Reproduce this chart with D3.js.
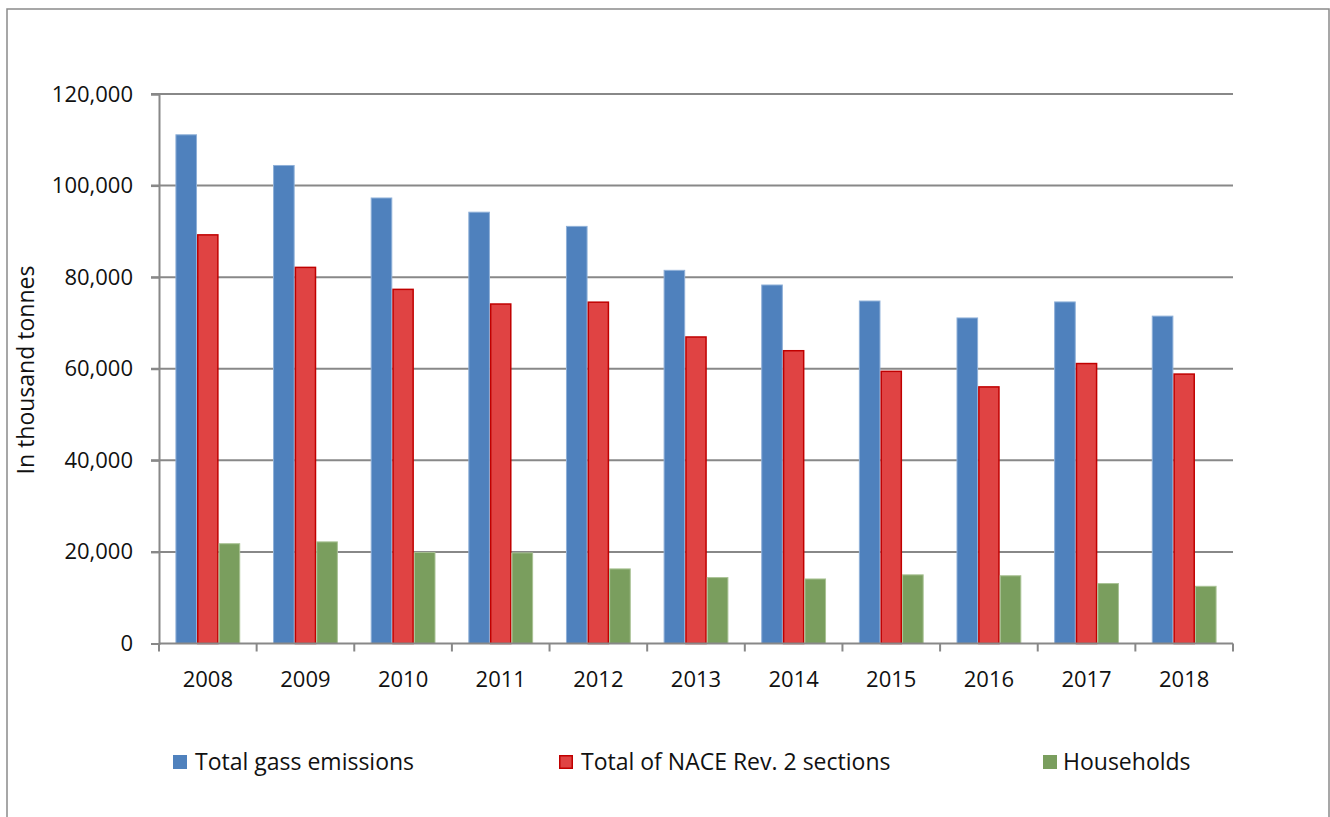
<!DOCTYPE html>
<html>
<head>
<meta charset="utf-8">
<script src="https://cdn.jsdelivr.net/npm/d3@7"></script>
<style>
  body { margin: 0; background: #fff; }
  text { font-family: "Open Sans", "Noto Sans", sans-serif; fill: #111; }
</style>
</head>
<body>
<svg id="chart"></svg>
<script>
const svgWidth = 1330;
const svgHeight = 817;

const years = ["2008", "2009", "2010", "2011", "2012", "2013", "2014", "2015", "2016", "2017", "2018"];
const seriesNames = ["Total gass emissions", "Total of NACE Rev. 2 sections", "Households"];
const totalGas = [111200, 104500, 97400, 94300, 91200, 81600, 78400, 74900, 71200, 74700, 71600];
const naceTotal = [89400, 82300, 77500, 74300, 74700, 67100, 64100, 59600, 56200, 61300, 59000];
const households = [21900, 22300, 20000, 19900, 16400, 14500, 14200, 15100, 14900, 13200, 12600];
const yTicks = [0, 20000, 40000, 60000, 80000, 100000, 120000];

const fills = ["#4f81bd", "#e04343", "#7a9e5e"];
const strokes = ["#8fb0d8", "#c00000", "#a9c294"];

const margin = { top: 94, left: 159, right: 97, bottom: 174 };
const width = svgWidth - margin.left - margin.right;
const height = 643.5 - margin.top;

const svg = d3.select("#chart")
    .attr("width", svgWidth)
    .attr("height", svgHeight);

// outer chart frame (bottom edge falls outside the picture)
svg.append("rect")
    .attr("x", 7).attr("y", 9)
    .attr("width", 1322).attr("height", 830)
    .attr("fill", "none")
    .attr("stroke", "#8a8a8a")
    .attr("stroke-width", 1.5);

const chart = svg.append("g")
    .attr("transform", `translate(${margin.left},${margin.top})`);

const x0 = d3.scaleBand().domain(years).range([0, width]).padding(0);
const x1 = d3.scaleBand().domain(d3.range(3)).range([0, x0.bandwidth()])
    .paddingInner(0).paddingOuter(0.76);
const y = d3.scaleLinear().domain([0, 120000]).range([height, 0]);

// gridlines
chart.append("g")
    .selectAll("line")
    .data(yTicks.filter(d => d > 0))
    .enter()
    .append("line")
    .attr("x1", -8).attr("x2", width)
    .attr("y1", d => y(d)).attr("y2", d => y(d))
    .attr("stroke", "#888")
    .attr("stroke-width", 2);

const rows = years.map((yr, i) => ({ year: yr, values: [totalGas[i], naceTotal[i], households[i]] }));

const groups = chart.selectAll(".year")
    .data(rows)
    .enter()
    .append("g")
    .attr("class", "year")
    .attr("transform", d => `translate(${x0(d.year)},0)`);

groups.selectAll("rect")
    .data(d => d.values.map((v, k) => ({ k, v })))
    .enter()
    .append("rect")
    .attr("x", d => x1(d.k) + (d.k === 1 ? 0.75 : 0.5))
    .attr("y", d => y(d.v) + (d.k === 1 ? 0.75 : 0.5))
    .attr("width", d => x1.bandwidth() - (d.k === 1 ? 1.5 : 1))
    .attr("height", d => height - y(d.v) - (d.k === 1 ? 0.75 : 0.5))
    .attr("fill", d => fills[d.k])
    .attr("stroke", d => strokes[d.k])
    .attr("stroke-width", d => d.k === 1 ? 1.5 : 1);

// y axis
const yAxis = d3.axisLeft(y)
    .tickValues(yTicks)
    .tickSize(8)
    .tickPadding(18)
    .tickFormat(d3.format(","));

const yg = chart.append("g").call(yAxis);
yg.select(".domain").attr("stroke", "#888").attr("stroke-width", 2);
yg.selectAll(".tick line").attr("stroke", "#888").attr("stroke-width", 2);
yg.selectAll(".tick text").style("font-size", "22px").attr("fill", "#111");

// x axis with ticks at category boundaries
chart.append("line")
    .attr("x1", 0).attr("x2", width)
    .attr("y1", height).attr("y2", height)
    .attr("stroke", "#888").attr("stroke-width", 2);

chart.append("g")
    .selectAll("line")
    .data(years.concat(["end"]))
    .enter()
    .append("line")
    .attr("x1", (d, i) => i * x0.step()).attr("x2", (d, i) => i * x0.step())
    .attr("y1", height).attr("y2", height + 8)
    .attr("stroke", "#888").attr("stroke-width", 2);

chart.append("g")
    .selectAll("text")
    .data(years)
    .enter()
    .append("text")
    .attr("x", d => x0(d) + x0.bandwidth() / 2)
    .attr("y", height + 43)
    .attr("text-anchor", "middle")
    .style("font-size", "22px")
    .text(d => d);

// y axis label
svg.append("text")
    .attr("transform", "rotate(-90)")
    .attr("x", -370)
    .attr("y", 34)
    .attr("text-anchor", "middle")
    .style("font-size", "23px")
    .text("In thousand tonnes");

// legend
const legendX = [173, 559, 1043];
const legend = svg.selectAll(".legend")
    .data(seriesNames)
    .enter()
    .append("g")
    .attr("class", "legend")
    .attr("transform", (d, i) => `translate(${legendX[i]},755)`);

legend.append("rect")
    .attr("x", (d, i) => i === 1 ? 0.75 : 0)
    .attr("y", (d, i) => i === 1 ? 0.75 : 0)
    .attr("width", (d, i) => i === 1 ? 12.5 : 14)
    .attr("height", (d, i) => i === 1 ? 12.5 : 14)
    .attr("fill", (d, i) => fills[i])
    .attr("stroke", (d, i) => i === 1 ? strokes[1] : "none")
    .attr("stroke-width", 1.5);

legend.append("text")
    .attr("x", (d, i) => i === 2 ? 20 : 22)
    .attr("y", 15)
    .style("font-size", "23px")
    .text(d => d);
</script>
</body>
</html>
